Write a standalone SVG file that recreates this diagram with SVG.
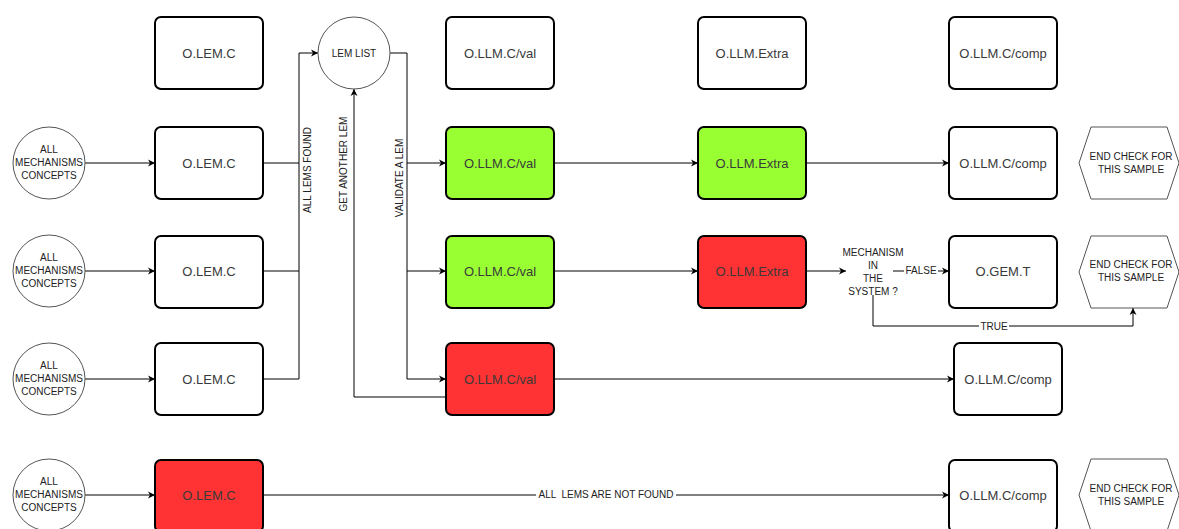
<svg xmlns="http://www.w3.org/2000/svg" width="1179" height="529" viewBox="0 0 1179 529">
<style>
.box{fill:#fff;stroke:#000;stroke-width:2}
.g{fill:#99ff33}
.r{fill:#ff3333}
.circ{fill:#fff;stroke:#555;stroke-width:1}
.hex{fill:#fff;stroke:#555;stroke-width:1}
.bt{font-family:"Liberation Sans",Arial,sans-serif;font-size:13px;fill:#3a3a3a;text-anchor:middle}
.st{font-family:"Liberation Sans",Arial,sans-serif;font-size:10px;fill:#222;text-anchor:middle}
.lt{font-family:"Liberation Sans",Arial,sans-serif;font-size:10px;fill:#222;text-anchor:middle}
.ln{fill:none;stroke:#000;stroke-width:1}
.lbg{fill:#fff}
</style>
<defs>
<marker id="a" markerWidth="8" markerHeight="8" refX="7" refY="4" orient="auto" markerUnits="userSpaceOnUse">
<path d="M0,0.5 L7,4 L0,7.5 L2,4 Z" fill="#000"/>
</marker>
</defs>

<g id="connectors">
<path class="ln" d="M85,163 H155" marker-end="url(#a)"/>
<path class="ln" d="M85,271 H155" marker-end="url(#a)"/>
<path class="ln" d="M85,379 H155" marker-end="url(#a)"/>
<path class="ln" d="M85,495 H155" marker-end="url(#a)"/>
<path class="ln" d="M263,163 H299 V53 H318" marker-end="url(#a)"/>
<path class="ln" d="M263,271 H299 V163"/>
<path class="ln" d="M263,379 H299 V271"/>
<path class="ln" d="M390,53 H407 V163 H446" marker-end="url(#a)"/>
<path class="ln" d="M407,163 V271 H446" marker-end="url(#a)"/>
<path class="ln" d="M407,271 V379 H446" marker-end="url(#a)"/>
<path class="ln" d="M446,397 H354 V89" marker-end="url(#a)"/>
<path class="ln" d="M554,163 H698" marker-end="url(#a)"/>
<path class="ln" d="M806,163 H949" marker-end="url(#a)"/>
<path class="ln" d="M554,271 H698" marker-end="url(#a)"/>
<path class="ln" d="M806,271 H846" marker-end="url(#a)"/>
<path class="ln" d="M893,271 H949" marker-end="url(#a)"/>
<path class="ln" d="M873,295 V326 H1133 V308" marker-end="url(#a)"/>
<path class="ln" d="M554,379 H954" marker-end="url(#a)"/>
<path class="ln" d="M263,495 H949" marker-end="url(#a)" stroke="#555"/>
<text class="lt" transform="translate(311,170) rotate(-90)">ALL LEMS FOUND</text>
<text class="lt" transform="translate(347,164) rotate(-90)">GET ANOTHER LEM</text>
<text class="lt" transform="translate(403,178) rotate(-90)">VALIDATE A LEM</text>
<rect class="lbg" x="904" y="265" width="34" height="11"/>
<text class="lt" x="921" y="274">FALSE</text>
<rect class="lbg" x="979" y="321" width="30" height="11"/>
<text class="lt" x="994" y="330">TRUE</text>
<rect class="lbg" x="536" y="489" width="140" height="11"/>
<text class="lt" x="606" y="498" xml:space="preserve">ALL  LEMS ARE NOT FOUND</text>
</g>

<g id="top-olemc"><rect class="box" x="155" y="17" width="108" height="72" rx="6"/><text class="bt" x="209" y="58">O.LEM.C</text></g>
<g id="lem-list"><circle class="circ" cx="354" cy="53" r="36"/><text class="st" x="354" y="57">LEM LIST</text></g>
<g id="top-val"><rect class="box" x="446" y="17" width="108" height="72" rx="6"/><text class="bt" x="500" y="58">O.LLM.C/val</text></g>
<g id="top-extra"><rect class="box" x="698" y="17" width="108" height="72" rx="6"/><text class="bt" x="752" y="58">O.LLM.Extra</text></g>
<g id="top-comp"><rect class="box" x="949" y="17" width="108" height="72" rx="6"/><text class="bt" x="1003" y="58">O.LLM.C/comp</text></g>

<g id="amc1"><circle class="circ" cx="49" cy="163" r="36"/><text class="st" x="49" y="153">ALL</text><text class="st" x="49" y="166">MECHANISMS</text><text class="st" x="49" y="179">CONCEPTS</text></g>
<g id="olemc1"><rect class="box" x="155" y="127" width="108" height="72" rx="6"/><text class="bt" x="209" y="168">O.LEM.C</text></g>
<g id="val1"><rect class="box g" x="446" y="127" width="108" height="72" rx="6"/><text class="bt" x="500" y="168">O.LLM.C/val</text></g>
<g id="extra1"><rect class="box g" x="698" y="127" width="108" height="72" rx="6"/><text class="bt" x="752" y="168">O.LLM.Extra</text></g>
<g id="comp1"><rect class="box" x="949" y="127" width="108" height="72" rx="6"/><text class="bt" x="1003" y="168">O.LLM.C/comp</text></g>
<g id="end1"><polygon class="hex" points="1079,163 1091,127 1167,127 1179,163 1167,199 1091,199"/><text class="st" x="1131" y="160">END CHECK FOR</text><text class="st" x="1131" y="173">THIS SAMPLE</text></g>

<g id="amc2"><circle class="circ" cx="49" cy="271" r="36"/><text class="st" x="49" y="261">ALL</text><text class="st" x="49" y="274">MECHANISMS</text><text class="st" x="49" y="287">CONCEPTS</text></g>
<g id="olemc2"><rect class="box" x="155" y="236" width="108" height="72" rx="6"/><text class="bt" x="209" y="276">O.LEM.C</text></g>
<g id="val2"><rect class="box g" x="446" y="236" width="108" height="72" rx="6"/><text class="bt" x="500" y="276">O.LLM.C/val</text></g>
<g id="extra2"><rect class="box r" x="698" y="236" width="108" height="72" rx="6"/><text class="bt" x="752" y="276">O.LLM.Extra</text></g>
<g id="decision"><text class="st" x="873" y="256">MECHANISM</text><text class="st" x="873" y="269">IN</text><text class="st" x="873" y="282">THE</text><text class="st" x="873" y="295">SYSTEM ?</text></g>
<g id="ogemt"><rect class="box" x="949" y="236" width="108" height="72" rx="6"/><text class="bt" x="1003" y="276">O.GEM.T</text></g>
<g id="end2"><polygon class="hex" points="1079,272 1091,236 1167,236 1179,272 1167,308 1091,308"/><text class="st" x="1131" y="268">END CHECK FOR</text><text class="st" x="1131" y="281">THIS SAMPLE</text></g>

<g id="amc3"><circle class="circ" cx="49" cy="379" r="36"/><text class="st" x="49" y="369">ALL</text><text class="st" x="49" y="382">MECHANISMS</text><text class="st" x="49" y="395">CONCEPTS</text></g>
<g id="olemc3"><rect class="box" x="155" y="343" width="108" height="72" rx="6"/><text class="bt" x="209" y="384">O.LEM.C</text></g>
<g id="val3"><rect class="box r" x="446" y="343" width="108" height="72" rx="6"/><text class="bt" x="500" y="384">O.LLM.C/val</text></g>
<g id="comp3"><rect class="box" x="954" y="343" width="108" height="72" rx="6"/><text class="bt" x="1008" y="384">O.LLM.C/comp</text></g>

<g id="amc4"><circle class="circ" cx="49" cy="495" r="36"/><text class="st" x="49" y="485">ALL</text><text class="st" x="49" y="498">MECHANISMS</text><text class="st" x="49" y="511">CONCEPTS</text></g>
<g id="olemc4"><rect class="box r" x="155" y="460" width="108" height="72" rx="6"/><text class="bt" x="209" y="500">O.LEM.C</text></g>
<g id="comp4"><rect class="box" x="949" y="460" width="108" height="72" rx="6"/><text class="bt" x="1003" y="500">O.LLM.C/comp</text></g>
<g id="end4"><polygon class="hex" points="1079,495 1091,459 1167,459 1179,495 1167,531 1091,531"/><text class="st" x="1131" y="492">END CHECK FOR</text><text class="st" x="1131" y="505">THIS SAMPLE</text></g>
</svg>
